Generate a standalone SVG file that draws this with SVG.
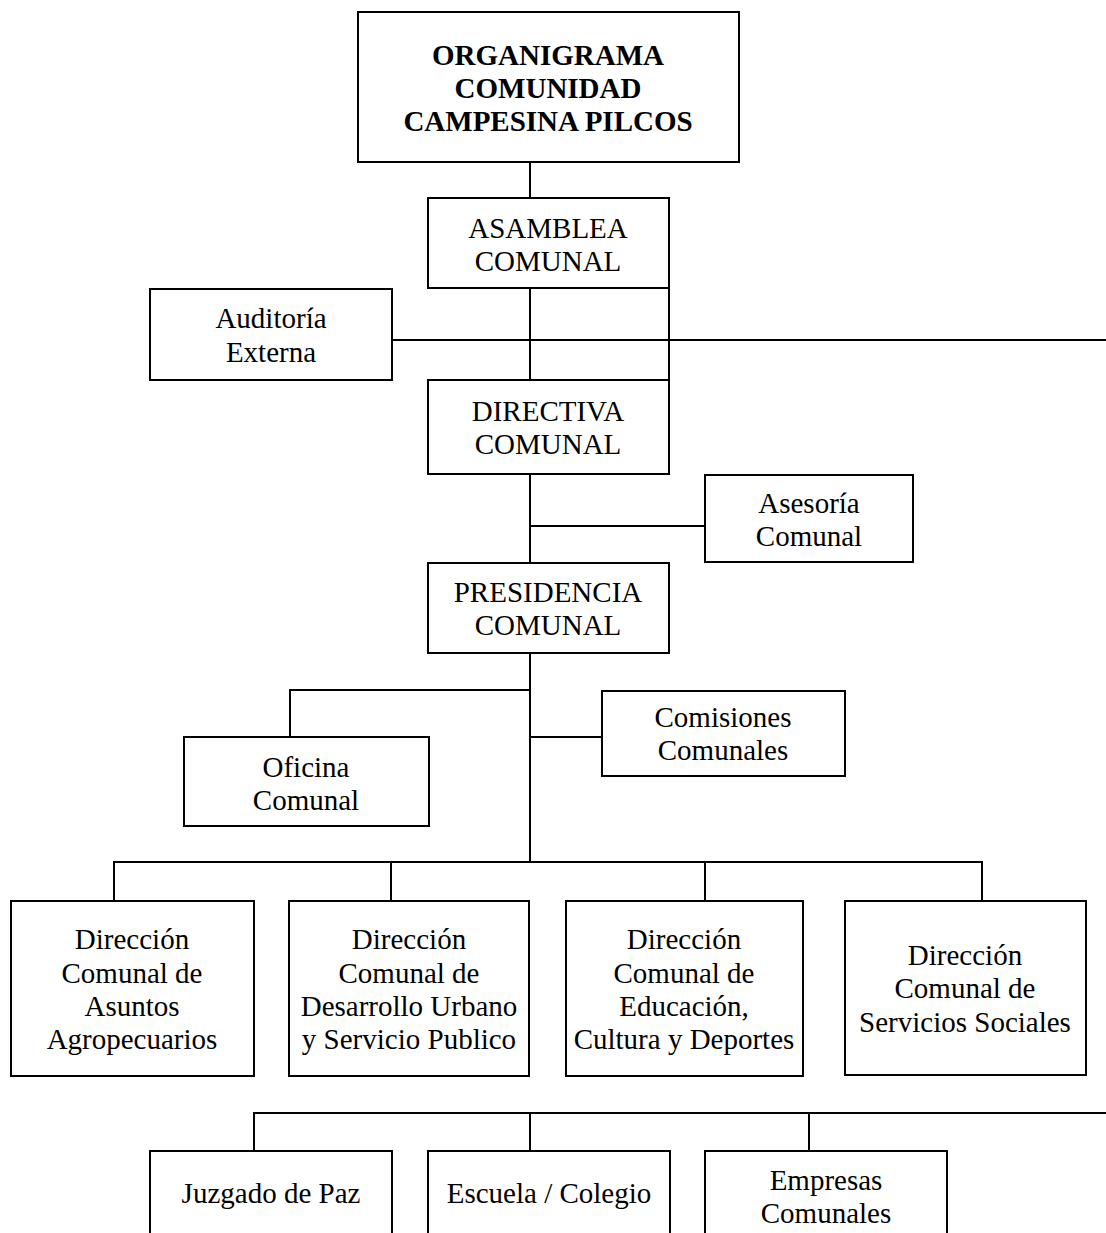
<svg xmlns="http://www.w3.org/2000/svg" width="1106" height="1233" viewBox="0 0 1106 1233">
<style>
.box{fill:#fff;stroke:#000;stroke-width:2}
.ln{stroke:#000;stroke-width:2;fill:none}
text{font-family:"Liberation Serif","Times New Roman",serif;font-size:29px;fill:#000;text-anchor:middle}
.b{font-weight:bold}
</style>
<rect width="1106" height="1233" fill="#fff"/>
<g id="connectors" class="ln">
<line x1="530" y1="162" x2="530" y2="198"/>
<line x1="530" y1="288" x2="530" y2="380"/>
<line x1="669" y1="288" x2="669" y2="380"/>
<line x1="392" y1="340" x2="1106" y2="340"/>
<line x1="530" y1="474" x2="530" y2="563"/>
<line x1="530" y1="526" x2="705" y2="526"/>
<line x1="530" y1="653" x2="530" y2="862"/>
<polyline points="530,690 290,690 290,737"/>
<line x1="530" y1="737" x2="602" y2="737"/>
<line x1="113" y1="862" x2="983" y2="862"/>
<line x1="114" y1="862" x2="114" y2="901"/>
<line x1="391" y1="862" x2="391" y2="901"/>
<line x1="705" y1="862" x2="705" y2="901"/>
<line x1="982" y1="862" x2="982" y2="901"/>
<line x1="253" y1="1113" x2="1106" y2="1113"/>
<line x1="254" y1="1113" x2="254" y2="1151"/>
<line x1="530" y1="1113" x2="530" y2="1151"/>
<line x1="809" y1="1113" x2="809" y2="1151"/>
</g>
<g id="title"><rect class="box" x="358" y="12" width="381" height="150"/>
<text class="b" x="548" y="65">ORGANIGRAMA</text><text class="b" x="548" y="98">COMUNIDAD</text><text class="b" x="548" y="131">CAMPESINA PILCOS</text></g>
<g id="asamblea"><rect class="box" x="428" y="198" width="241" height="90"/>
<text x="548" y="238">ASAMBLEA</text><text x="548" y="271">COMUNAL</text></g>
<g id="auditoria"><rect class="box" x="150" y="289" width="242" height="91"/>
<text x="271" y="328">Auditoría</text><text x="271" y="362">Externa</text></g>
<g id="directiva"><rect class="box" x="428" y="380" width="241" height="94"/>
<text x="548" y="421">DIRECTIVA</text><text x="548" y="454">COMUNAL</text></g>
<g id="asesoria"><rect class="box" x="705" y="475" width="208" height="87"/>
<text x="809" y="513">Asesoría</text><text x="809" y="546">Comunal</text></g>
<g id="presidencia"><rect class="box" x="428" y="563" width="241" height="90"/>
<text x="548" y="602">PRESIDENCIA</text><text x="548" y="635">COMUNAL</text></g>
<g id="comisiones"><rect class="box" x="602" y="691" width="243" height="85"/>
<text x="723" y="727">Comisiones</text><text x="723" y="760">Comunales</text></g>
<g id="oficina"><rect class="box" x="184" y="737" width="245" height="89"/>
<text x="306" y="777">Oficina</text><text x="306" y="810">Comunal</text></g>
<g id="d1"><rect class="box" x="11" y="901" width="243" height="175"/>
<text x="132" y="949">Dirección</text><text x="132" y="983">Comunal de</text><text x="132" y="1016">Asuntos</text><text x="132" y="1049">Agropecuarios</text></g>
<g id="d2"><rect class="box" x="289" y="901" width="240" height="175"/>
<text x="409" y="949">Dirección</text><text x="409" y="983">Comunal de</text><text x="409" y="1016">Desarrollo Urbano</text><text x="409" y="1049">y Servicio Publico</text></g>
<g id="d3"><rect class="box" x="566" y="901" width="237" height="175"/>
<text x="684" y="949">Dirección</text><text x="684" y="983">Comunal de</text><text x="684" y="1016">Educación,</text><text x="684" y="1049">Cultura y Deportes</text></g>
<g id="d4"><rect class="box" x="845" y="901" width="241" height="174"/>
<text x="965" y="965">Dirección</text><text x="965" y="998">Comunal de</text><text x="965" y="1032">Servicios Sociales</text></g>
<g id="juzgado"><rect class="box" x="150" y="1151" width="242" height="100"/>
<text x="271" y="1203">Juzgado de Paz</text></g>
<g id="escuela"><rect class="box" x="428" y="1151" width="242" height="100"/>
<text x="549" y="1203">Escuela / Colegio</text></g>
<g id="empresas"><rect class="box" x="705" y="1151" width="242" height="100"/>
<text x="826" y="1190">Empresas</text><text x="826" y="1223">Comunales</text></g>
</svg>
